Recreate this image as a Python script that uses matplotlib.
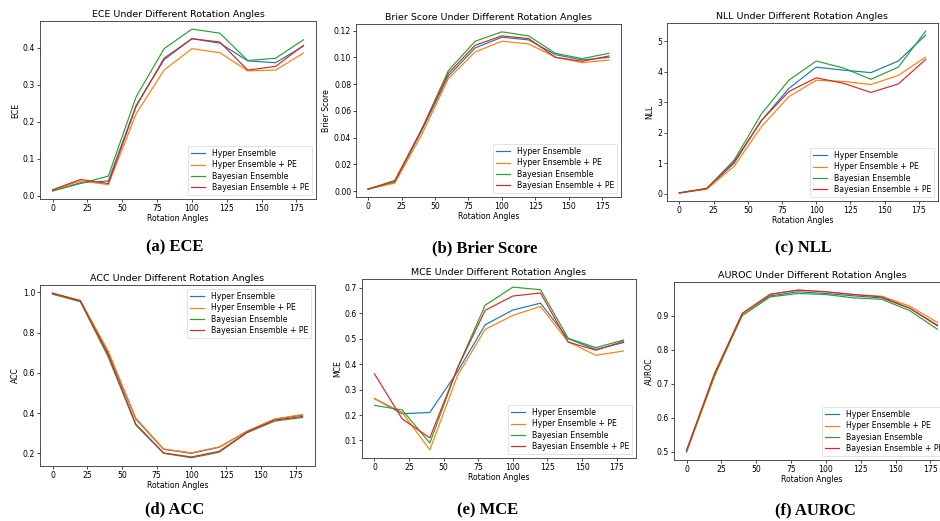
import numpy as np
import matplotlib
matplotlib.use("Agg")
import matplotlib.pyplot as plt

angles = [0, 20, 40, 60, 80, 100, 120, 140, 160, 180]
names = ["Hyper Ensemble", "Hyper Ensemble + PE", "Bayesian Ensemble", "Bayesian Ensemble + PE"]

ece_he = [0.013, 0.035, 0.040, 0.245, 0.368, 0.425, 0.413, 0.365, 0.360, 0.405]
ece_hepe = [0.015, 0.040, 0.030, 0.222, 0.340, 0.398, 0.387, 0.338, 0.340, 0.386]
ece_be = [0.013, 0.033, 0.053, 0.268, 0.398, 0.451, 0.440, 0.366, 0.372, 0.422]
ece_bepe = [0.016, 0.044, 0.033, 0.242, 0.372, 0.425, 0.416, 0.340, 0.350, 0.407]

brier_he = [0.0015, 0.007, 0.045, 0.086, 0.107, 0.115, 0.113, 0.102, 0.098, 0.100]
brier_hepe = [0.0015, 0.006, 0.042, 0.084, 0.104, 0.112, 0.110, 0.100, 0.096, 0.098]
brier_be = [0.0015, 0.007, 0.046, 0.090, 0.112, 0.119, 0.116, 0.103, 0.099, 0.103]
brier_bepe = [0.0015, 0.008, 0.046, 0.088, 0.109, 0.116, 0.114, 0.100, 0.097, 0.101]

nll_he = [0.03, 0.16, 1.00, 2.40, 3.45, 4.15, 4.05, 3.97, 4.35, 5.20]
nll_hepe = [0.03, 0.15, 0.90, 2.20, 3.18, 3.72, 3.68, 3.58, 3.88, 4.48]
nll_be = [0.03, 0.17, 1.10, 2.62, 3.72, 4.35, 4.12, 3.75, 4.15, 5.33]
nll_bepe = [0.03, 0.18, 1.05, 2.40, 3.35, 3.80, 3.62, 3.32, 3.60, 4.40]

acc_he = [0.995, 0.958, 0.700, 0.370, 0.220, 0.200, 0.230, 0.310, 0.370, 0.390]
acc_hepe = [0.995, 0.958, 0.710, 0.375, 0.222, 0.203, 0.232, 0.308, 0.370, 0.393]
acc_be = [0.990, 0.953, 0.680, 0.340, 0.200, 0.178, 0.205, 0.302, 0.360, 0.378]
acc_bepe = [0.995, 0.958, 0.690, 0.345, 0.202, 0.182, 0.210, 0.305, 0.365, 0.383]

mce_he = [0.265, 0.205, 0.210, 0.370, 0.555, 0.613, 0.640, 0.500, 0.458, 0.485]
mce_hepe = [0.265, 0.210, 0.063, 0.355, 0.537, 0.592, 0.627, 0.488, 0.435, 0.452]
mce_be = [0.238, 0.220, 0.090, 0.385, 0.632, 0.703, 0.693, 0.502, 0.465, 0.495]
mce_bepe = [0.362, 0.185, 0.110, 0.385, 0.612, 0.668, 0.680, 0.487, 0.455, 0.490]

auroc_he = [0.503, 0.725, 0.905, 0.958, 0.970, 0.965, 0.958, 0.952, 0.922, 0.872]
auroc_hepe = [0.500, 0.720, 0.905, 0.962, 0.975, 0.970, 0.962, 0.957, 0.928, 0.880]
auroc_be = [0.500, 0.725, 0.900, 0.955, 0.965, 0.962, 0.952, 0.948, 0.915, 0.860]
auroc_bepe = [0.505, 0.730, 0.907, 0.963, 0.975, 0.970, 0.962, 0.955, 0.922, 0.870]

acc_yticks = [0.2, 0.4, 0.6, 0.8, 1.0]

W, H = 940, 521
colors = ["#1f77b4", "#ff7f0e", "#2ca02c", "#d62728"]

# panel boxes in pixels: x0, y0 (top), x1, y1 (bottom)
panels = [
    ("ECE", "ECE", [ece_he, ece_hepe, ece_be, ece_bepe], (40, 21, 316, 199), "lower right", "(a) ECE", (175, 247)),
    ("Brier Score", "Brier Score", [brier_he, brier_hepe, brier_be, brier_bepe], (356, 24, 621, 197), "lower right", "(b) Brier Score", (485, 248)),
    ("NLL", "NLL", [nll_he, nll_hepe, nll_be, nll_bepe], (667, 23, 938, 201), "lower right", "(c) NLL", (803, 248)),
    ("ACC", "ACC", [acc_he, acc_hepe, acc_be, acc_bepe], (40, 285, 315, 466), "upper right", "(d) ACC", (175, 509)),
    ("MCE", "MCE", [mce_he, mce_hepe, mce_be, mce_bepe], (362, 279, 636, 458), "lower right", "(e) MCE", (488, 510)),
    ("AUROC", "AUROC", [auroc_he, auroc_hepe, auroc_be, auroc_bepe], (674, 282, 950, 460), "lower right", "(f) AUROC", (815, 510)),
]

fs = 5.6
fig = plt.figure(figsize=(W / 100, H / 100), dpi=100)

for title, ylab, series, box, loc, cap, cpos in panels:
    x0, y0, x1, y1 = box
    ax = fig.add_axes([x0 / W, (H - y1) / H, (x1 - x0) / W, (y1 - y0) / H])
    for vals, name, c in zip(series, names, colors):
        ax.plot(angles, vals, color=c, lw=0.85, label=name)
    ax.set_title(title + " Under Different Rotation Angles", fontsize=6.8, pad=3)
    ax.set_xlabel("Rotation Angles", fontsize=fs, labelpad=1)
    ax.set_ylabel(ylab, fontsize=fs, labelpad=2)
    ax.set_xticks([0, 25, 50, 75, 100, 125, 150, 175])
    if title == "ACC":
        ax.set_yticks(acc_yticks)
    ax.tick_params(labelsize=fs, length=2, width=0.5, pad=1.5)
    for sp in ax.spines.values():
        sp.set_linewidth(0.6)
        sp.set_color("#333333")
    leg = ax.legend(loc=loc, fontsize=fs, handlelength=1.8, borderpad=0.4, labelspacing=0.3, framealpha=0.8)
    leg.get_frame().set_linewidth(0.5)
    fig.text(cpos[0] / W, 1 - cpos[1] / H, cap, ha="center", va="center",
             family="Liberation Serif", fontweight="bold", fontsize=12)

fig.savefig("out.png", dpi=100)
